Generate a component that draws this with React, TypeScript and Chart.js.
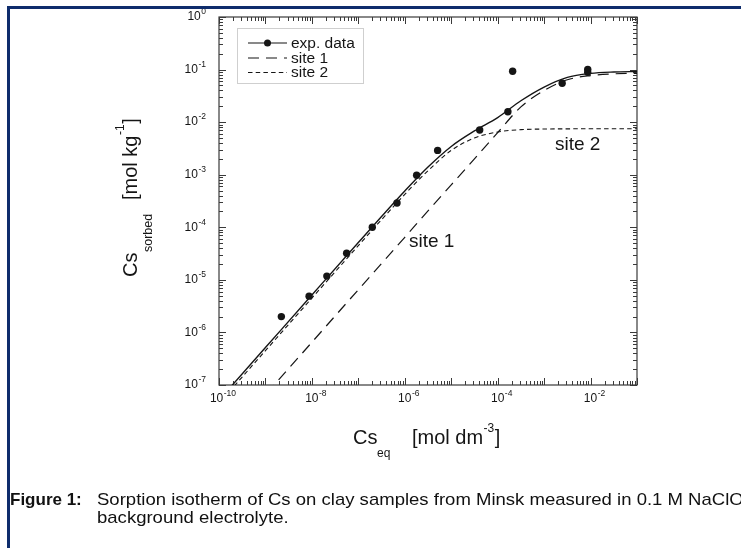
import React, { useEffect, useRef } from "react";
import { Chart, registerables } from "chart.js";

Chart.register(...registerables);

// ---------- data ----------
const expX = [2.2e-9, 8.7e-9, 2.1e-8, 5.6e-8, 2.0e-7, 6.8e-7, 1.8e-6, 5.1e-6, 4.1e-5, 1.66e-4, 2.1e-4, 2.45e-3, 8.7e-3, 8.7e-3];
const expY = [2.0e-6, 4.9e-6, 1.18e-5, 3.2e-5, 1.0e-4, 2.9e-4, 9.8e-4, 2.9e-3, 7.1e-3, 1.58e-2, 9.3e-2, 5.5e-2, 1.01e-1, 8.9e-2];

const curveX = [1e-10, 1e-9, 1e-8, 1e-7, 3.16e-7, 1e-6, 3.16e-6, 1e-5, 3.16e-5, 1e-4, 3.16e-4, 1e-3, 3.16e-3, 1e-2, 3.16e-2, 1e-1];
const totalY = [5.15e-8, 5.15e-7, 5.15e-6, 5.12e-5, 1.6e-4, 4.89e-4, 1.4e-3, 3.45e-3, 6.8e-3, 1.22e-2, 2.55e-2, 4.65e-2, 7.1e-2, 8.45e-2, 9.0e-2, 9.2e-2];
const site1Y = [6.5e-9, 6.5e-8, 6.5e-7, 6.5e-6, 2.05e-5, 6.45e-5, 2.05e-4, 6.4e-4, 2.0e-3, 6.3e-3, 1.95e-2, 4.0e-2, 6.4e-2, 7.7e-2, 8.3e-2, 8.5e-2];
const site2Y = [4.5e-8, 4.5e-7, 4.5e-6, 4.47e-5, 1.395e-4, 4.24e-4, 1.19e-3, 2.9e-3, 5.0e-3, 6.5e-3, 7.2e-3, 7.4e-3, 7.45e-3, 7.5e-3, 7.5e-3, 7.5e-3];

const xLabelExps = [-10, -8, -6, -4, -2];
const yLabelExps = [0, -1, -2, -3, -4, -5, -6, -7];
const legendLabels = ["exp. data", "site 1", "site 2"];
const curveLabels = ["site 1", "site 2"];

const FONT = "'Liberation Sans', Arial, Helvetica, sans-serif";
const INK = "#151515";

function pts(xs: number[], ys: number[]) {
  return xs.map((x, i) => ({ x, y: ys[i] }));
}

function drawPow(ctx: CanvasRenderingContext2D, x: number, y: number, exp: number, align: "right" | "center") {
  const base = 12, sup = 8.5;
  const e = String(exp);
  ctx.font = `${base}px ${FONT}`;
  const w1 = ctx.measureText("10").width;
  ctx.font = `${sup}px ${FONT}`;
  const w2 = ctx.measureText(e).width;
  const total = w1 + w2 + 0.5;
  const x0 = align === "right" ? x - total : x - total / 2;
  ctx.textAlign = "left";
  ctx.textBaseline = "middle";
  ctx.font = `${base}px ${FONT}`;
  ctx.fillText("10", x0, y);
  ctx.font = `${sup}px ${FONT}`;
  ctx.fillText(e, x0 + w1 + 0.5, y - 5);
}

const framePlugin = {
  id: "frame",
  beforeDatasetsDraw(chart: any) {
    const ctx: CanvasRenderingContext2D = chart.ctx;
    const xs = chart.scales.x, ys = chart.scales.y;
    const { left, right, top, bottom } = chart.chartArea;
    ctx.save();
    ctx.strokeStyle = "#3a3a3a";
    ctx.lineWidth = 1.2;
    ctx.strokeRect(left, top, right - left, bottom - top);
    ctx.lineWidth = 1;
    ctx.beginPath();
    for (let d = -10; d <= -1; d++) {
      for (let m = 1; m <= 9; m++) {
        const v = m * Math.pow(10, d);
        if (v < 1e-10 * 0.999 || v > 1e-1 * 1.001) continue;
        const px = Math.round(xs.getPixelForValue(v)) + 0.5;
        const len = m === 1 ? 7 : 4;
        ctx.moveTo(px, bottom);
        ctx.lineTo(px, bottom - len);
        ctx.moveTo(px, top);
        ctx.lineTo(px, top + len);
      }
    }
    for (let d = -7; d <= 0; d++) {
      for (let m = 1; m <= 9; m++) {
        const v = m * Math.pow(10, d);
        if (v < 1e-7 * 0.999 || v > 1.001) continue;
        const py = Math.round(ys.getPixelForValue(v)) + 0.5;
        const len = m === 1 ? 7 : 4;
        ctx.moveTo(left, py);
        ctx.lineTo(left + len, py);
        ctx.moveTo(right, py);
        ctx.lineTo(right - len, py);
      }
    }
    ctx.stroke();
    ctx.restore();
  },
  afterDraw(chart: any) {
    const ctx: CanvasRenderingContext2D = chart.ctx;
    const xs = chart.scales.x, ys = chart.scales.y;
    const { left, bottom } = chart.chartArea;
    ctx.save();
    ctx.fillStyle = INK;
    xLabelExps.forEach((e) => {
      drawPow(ctx, xs.getPixelForValue(Math.pow(10, e)) + 4, bottom + 14, e, "center");
    });
    yLabelExps.forEach((e) => {
      drawPow(ctx, left - 13, ys.getPixelForValue(Math.pow(10, e)), e, "right");
    });

    // x title
    ctx.textAlign = "left";
    ctx.textBaseline = "alphabetic";
    ctx.font = `20px ${FONT}`;
    ctx.fillText("Cs", 353, 444);
    ctx.font = `12px ${FONT}`;
    ctx.fillText("eq", 377, 457);
    ctx.font = `20px ${FONT}`;
    ctx.fillText("[mol dm", 412, 444);
    let w = ctx.measureText("[mol dm").width;
    ctx.font = `12px ${FONT}`;
    ctx.fillText("-3", 412 + w + 0.5, 432);
    const w3 = ctx.measureText("-3").width;
    ctx.font = `20px ${FONT}`;
    ctx.fillText("]", 412 + w + 1 + w3, 444);

    // y title (rotated)
    ctx.save();
    ctx.translate(137, 277);
    ctx.rotate(-Math.PI / 2);
    ctx.font = `20px ${FONT}`;
    ctx.fillText("Cs", 0, 0);
    ctx.font = `12.5px ${FONT}`;
    ctx.fillText("sorbed", 25, 15);
    ctx.font = `20px ${FONT}`;
    ctx.fillText("[mol kg", 77, 0);
    w = ctx.measureText("[mol kg").width;
    ctx.font = `12px ${FONT}`;
    ctx.fillText("-1", 77 + w + 0.5, -13);
    const w1 = ctx.measureText("-1").width;
    ctx.font = `20px ${FONT}`;
    ctx.fillText("]", 77 + w + 1 + w1, 0);
    ctx.restore();

    // curve annotations
    ctx.font = `19px ${FONT}`;
    ctx.textBaseline = "middle";
    ctx.fillText(curveLabels[0], 409, 242);
    ctx.fillText(curveLabels[1], 555, 145);

    // legend
    const bx = 237, by = 28, bw = 126, bh = 55;
    ctx.fillStyle = "#ffffff";
    ctx.fillRect(bx, by, bw, bh);
    ctx.strokeStyle = "#cfcfcf";
    ctx.lineWidth = 1;
    ctx.strokeRect(bx + 0.5, by + 0.5, bw, bh);
    const rows = [43, 58, 72.5];
    const dashes = [[], [11, 7], [4.5, 3.2]];
    ctx.strokeStyle = INK;
    rows.forEach((ry, i) => {
      ctx.beginPath();
      ctx.setLineDash(dashes[i]);
      ctx.lineWidth = 1.2;
      ctx.moveTo(248, ry);
      ctx.lineTo(287, ry);
      ctx.stroke();
    });
    ctx.setLineDash([]);
    ctx.fillStyle = INK;
    ctx.beginPath();
    ctx.arc(267.5, rows[0], 3.5, 0, Math.PI * 2);
    ctx.fill();
    ctx.font = `15.5px ${FONT}`;
    ctx.textBaseline = "middle";
    legendLabels.forEach((t, i) => ctx.fillText(t, 291, rows[i] + 0.5));
    ctx.restore();
  },
};

export default function App() {
  const ref = useRef<HTMLCanvasElement | null>(null);

  useEffect(() => {
    if (!ref.current) return;
    const chart = new Chart(ref.current, {
      type: "scatter",
      data: {
        datasets: [
          {
            label: "exp. data",
            data: pts(expX, expY),
            showLine: false,
            pointRadius: 3.7,
            pointBackgroundColor: INK,
            pointBorderColor: INK,
            pointBorderWidth: 0,
            order: 0,
          },
          {
            label: "total",
            data: pts(curveX, totalY),
            showLine: true,
            borderColor: INK,
            borderWidth: 1.4,
            pointRadius: 0,
            cubicInterpolationMode: "monotone",
            order: 1,
          },
          {
            label: "site 1",
            data: pts(curveX, site1Y),
            showLine: true,
            borderColor: INK,
            borderWidth: 1.2,
            borderDash: [11, 7],
            pointRadius: 0,
            cubicInterpolationMode: "monotone",
            order: 2,
          },
          {
            label: "site 2",
            data: pts(curveX, site2Y),
            showLine: true,
            borderColor: INK,
            borderWidth: 1.1,
            borderDash: [4.5, 3.2],
            pointRadius: 0,
            cubicInterpolationMode: "monotone",
            order: 3,
          },
        ],
      },
      options: {
        animation: false,
        responsive: false,
        devicePixelRatio: 1,
        layout: { padding: { left: 219, right: 104, top: 17, bottom: 163 } },
        plugins: { legend: { display: false }, tooltip: { enabled: false } },
        events: [],
        scales: {
          x: { type: "logarithmic", min: 1e-10, max: 1e-1, display: false },
          y: { type: "logarithmic", min: 1e-7, max: 1, display: false },
        },
      },
      plugins: [framePlugin],
    } as any);
    return () => chart.destroy();
  }, []);

  const captionStyle: React.CSSProperties = {
    position: "absolute",
    fontFamily: FONT,
    fontSize: "17px",
    lineHeight: "18px",
    color: "#111",
    whiteSpace: "nowrap",
    transformOrigin: "0 0",
  };

  return (
    <div
      style={{
        position: "absolute",
        left: 0,
        top: 0,
        width: 741,
        height: 548,
        overflow: "hidden",
        background: "#fff",
      }}
    >
      <canvas ref={ref} width={741} height={548} style={{ position: "absolute", left: 0, top: 0 }} />
      <div style={{ position: "absolute", left: 7, top: 6, width: 734, height: 3, background: "#0e2c6c" }} />
      <div style={{ position: "absolute", left: 7, top: 6, width: 3, height: 542, background: "#0e2c6c" }} />
      <div style={{ ...captionStyle, left: 10, top: 491, fontWeight: "bold" }}>Figure 1:</div>
      <div style={{ ...captionStyle, left: 97, top: 491, transform: "scaleX(1.09)" }}>
        Sorption isotherm of Cs on clay samples from Minsk measured in 0.1 M NaClO4
      </div>
      <div style={{ ...captionStyle, left: 97, top: 509, transform: "scaleX(1.09)" }}>background electrolyte.</div>
    </div>
  );
}
